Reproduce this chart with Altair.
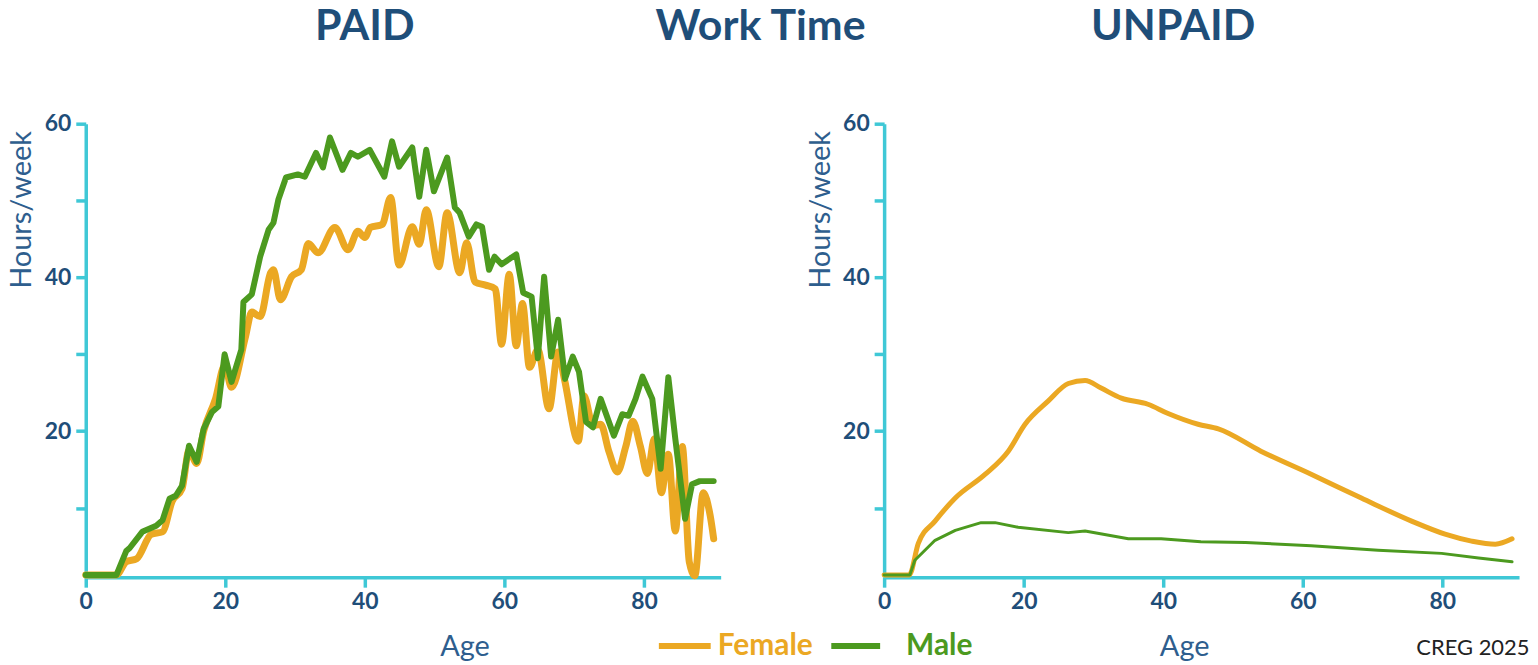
import altair as alt
import pandas as pd

# ---------------- data ----------------
# PAID work, hours/week by age
paid_f_age = [0, 4.4, 5.8, 7.3, 9.4, 11, 12.4, 13.8, 14.8, 15.9, 16.9, 18.6, 19.9, 20.9,
              22.9, 23.8, 25, 26.5, 26.9, 27.9, 29.5, 30.9, 31.9, 33.3, 35.7, 37.6, 39,
              40, 40.8, 42.5, 43.7, 44.9, 46.8, 47.8, 48.8, 50.6, 51.8, 53.6, 54.6, 55.8,
              57.3, 58.7, 59.6, 60.7, 61.7, 62.6, 63.6, 64.8, 66.4, 67.7, 68.6, 70.6,
              71.4, 72.7, 73.8, 75, 76.2, 77.4, 78.4, 79.5, 80.5, 81.5, 82.5, 83.5, 84.5,
              85.5, 86.5, 87.3, 88.5, 89.5, 90]
paid_f_val = [1.3, 1.3, 3.0, 3.4, 6.6, 6.9, 10.9, 12.5, 17.5, 15.8, 20.0, 24.2, 28.5, 25.7,
              32.3, 35.5, 34.9, 40.6, 41.0, 37.1, 40.1, 41.0, 44.4, 43.2, 46.5, 43.6, 46.0,
              45.2, 46.5, 46.9, 50.4, 41.6, 46.6, 44.3, 48.8, 41.4, 48.4, 40.6, 44.5, 39.4,
              39.0, 38.5, 31.3, 40.4, 31.1, 36.6, 28.3, 30.6, 22.9, 30.3, 26.8, 18.7,
              24.6, 20.7, 20.9, 17.3, 14.7, 18.0, 21.3, 18.0, 14.5, 19.0, 12.0, 17.0, 7.0,
              18.0, 3.0, 1.2, 12.0, 9.0, 6.0]
paid_m_age = [0, 4.4, 5.8, 6.3, 8.1, 10.1, 11, 12, 12.9, 13.8, 14.8, 15.9, 16.9, 18.1, 19,
              19.9, 20.9, 22.3, 22.6, 23.8, 25, 26.2, 26.9, 27.6, 28.7, 30.4, 31.4, 33, 34,
              35, 36.8, 38, 39, 40.7, 42.8, 43.9, 44.9, 46.8, 47.8, 48.8, 49.9, 51.8, 52.9,
              53.6, 54.9, 56, 56.8, 57.8, 58.6, 59.6, 61.7, 62.7, 63.9, 64.8, 65.7, 66.7,
              67.7, 68.7, 69.8, 70.7, 71.7, 72.7, 73.8, 75.7, 76.9, 77.8, 78.8, 79.8, 81.2,
              82.4, 83.5, 84.5, 85.9, 86.9, 88, 90]
paid_m_val = [1.3, 1.3, 4.4, 4.8, 6.9, 7.7, 8.4, 11.2, 11.6, 12.9, 18.1, 16.0, 20.3, 22.5, 23.2,
              30.0, 26.4, 30.6, 36.8, 37.8, 42.7, 46.2, 47.1, 50.1, 53.0, 53.4, 53.1, 56.2, 54.3,
              58.2, 54.0, 56.2, 55.7, 56.6, 53.1, 57.7, 54.4, 56.9, 50.5, 56.6, 51.2, 55.6, 49.1,
              48.4, 45.3, 46.9, 46.6, 41.0, 42.7, 41.7, 43.0, 38.0, 37.5, 29.5, 40.1, 29.7,
              34.5, 26.8, 29.7, 27.7, 21.2, 20.5, 24.2, 19.4, 22.2, 22.0, 24.2, 27.1, 24.2,
              15.1, 27.0, 19.0, 8.6, 13.1, 13.5, 13.5]

# UNPAID work, hours/week by age
unpaid_f_age = [0, 3.6, 4.9, 7.3, 10.2, 14.5, 17.8, 20.2, 23.5, 26.4, 28.8, 31.1, 34, 37.8,
                40.7, 45, 47.9, 54, 61.2, 68.4, 75.6, 80.4, 84.2, 87.6, 90]
unpaid_f_val = [1.3, 1.3, 5.4, 8.3, 11.3, 14.4, 17.4, 20.9, 23.9, 26.2, 26.6, 25.6, 24.3, 23.5,
                22.3, 20.9, 20.3, 17.4, 14.4, 11.3, 8.3, 6.6, 5.7, 5.3, 6.0]
unpaid_m_age = [0, 3.7, 4.4, 7.3, 10.2, 13.9, 15.9, 19.2, 26.4, 28.8, 35, 39.7, 45.4, 51.8,
                61.2, 70.8, 79.9, 85.2, 90]
unpaid_m_val = [1.3, 1.3, 3.2, 5.8, 7.1, 8.1, 8.1, 7.5, 6.8, 7.0, 6.0, 6.0, 5.6, 5.5, 5.1,
                4.5, 4.1, 3.5, 3.0]

series_names = ["Female", "Male"]
panel_titles = ["PAID", "Work Time", "UNPAID"]
x_ticks = [0, 20, 40, 60, 80]
y_ticks = [10, 20, 30, 40, 50, 60]
credit = ["CREG 2025"]

# ---------------- style ----------------
NAVY = "#1F4E79"
MIDBLUE = "#2E5E8E"
CYAN = "#3FC8D6"
ORANGE = "#EBA823"
GREEN = "#4C9A1F"
FONT = "Lato"
W, H = 637, 455

color_scale = alt.Scale(domain=series_names, range=[ORANGE, GREEN])
x_scale = alt.Scale(domain=[0, 91], nice=False, zero=False)
y_scale = alt.Scale(domain=[1, 60], nice=False, zero=False)

axis_common = dict(
    grid=False, domainColor=CYAN, domainWidth=3.5, tickColor=CYAN, tickWidth=3.5,
    tickSize=10, labelFont=FONT, labelFontWeight="bold", labelFontSize=23,
    labelColor=NAVY, labelFlush=False, titleFont=FONT, titleFontWeight="normal",
    titleFontSize=29, titleColor=MIDBLUE,
)


def make_x(title_x):
    return alt.X("age:Q", scale=x_scale,
                 axis=alt.Axis(values=x_ticks, title="Age", labelPadding=3,
                               titleX=title_x, titleY=70, titleBaseline="middle",
                               titleAlign="center", **axis_common))


y_enc = alt.Y("hours:Q", scale=y_scale,
              axis=alt.Axis(values=y_ticks, title="Hours/week",
                            labelExpr="datum.value % 20 == 0 ? datum.label : ''",
                            labelPadding=5, titleX=-49, titleY=86,
                            titleAlign="center", titleBaseline="bottom",
                            **axis_common))


def panel(f_age, f_val, m_age, m_val, f_w, m_w, title_x):
    fdf = pd.DataFrame({"age": f_age, "hours": f_val, "sex": series_names[0]})
    mdf = pd.DataFrame({"age": m_age, "hours": m_val, "sex": series_names[1]})
    xe = make_x(title_x)
    col = alt.Color("sex:N", scale=color_scale, legend=None)
    lf = alt.Chart(fdf).mark_line(strokeWidth=f_w, interpolate="monotone",
                                  strokeCap="round", strokeJoin="round").encode(
        x=xe, y=y_enc, color=col)
    lm = alt.Chart(mdf).mark_line(strokeWidth=m_w, interpolate="linear",
                                  strokeCap="round", strokeJoin="round").encode(
        x=xe, y=y_enc, color=col)
    return [lf, lm]


def text_mark(txt, x, y, size, weight, color, align="center"):
    return alt.Chart(pd.DataFrame({"t": [txt]})).mark_text(
        font=FONT, fontSize=size, fontWeight=weight, color=color,
        align=align, baseline="middle").encode(
        text="t:N", x=alt.value(x), y=alt.value(y))


def legend_rule(name, x1, x2, y):
    return alt.Chart(pd.DataFrame({"sex": [name]})).mark_rule(strokeWidth=6).encode(
        x=alt.value(x1), x2=alt.value(x2), y=alt.value(y),
        color=alt.Color("sex:N", scale=color_scale, legend=None))


annotations = [
    text_mark(panel_titles[0], 280, -97, 43, "bold", NAVY),
    text_mark(panel_titles[1], 677, -97, 43, "bold", NAVY),
    text_mark(panel_titles[2], 1091, -97, 43, "bold", NAVY),
    legend_rule(series_names[0], 575, 627, 524),
    text_mark(series_names[0], 634, 524, 30, "bold", ORANGE, "left"),
    legend_rule(series_names[1], 748, 797, 524),
    text_mark(series_names[1], 823, 524, 30, "bold", GREEN, "left"),
    text_mark(credit[0], 1335, 526, 22, "normal", "#222222", "left"),
]

left = alt.layer(*panel(paid_f_age, paid_f_val, paid_m_age, paid_m_val, 7, 6, 380),
                 *annotations).properties(width=W, height=H)
right = alt.layer(*panel(unpaid_f_age, unpaid_f_val, unpaid_m_age, unpaid_m_val, 5, 3, 301)
                  ).properties(width=W, height=H)

chart = alt.hconcat(left, right, spacing=164, bounds="flush").resolve_scale(
    color="shared").configure_view(stroke=None).properties(
    padding={"left": 0, "top": -3, "right": 0, "bottom": 0})

chart.save("out.html", embed_options={"renderer": "svg", "actions": False})
